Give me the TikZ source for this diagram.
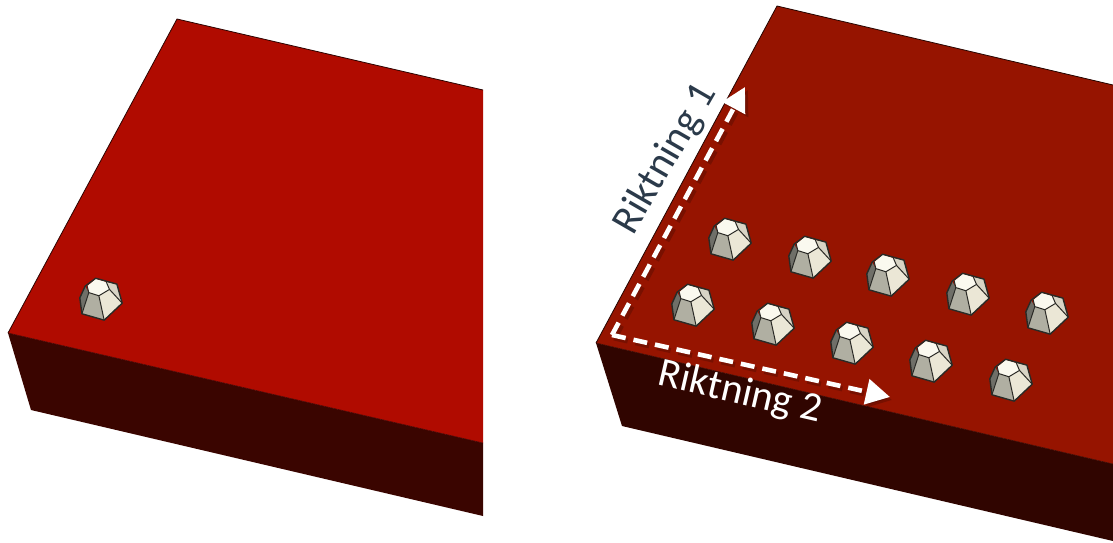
\documentclass[tikz,border=0pt]{standalone}
\usepackage{fontspec}
\setmainfont{Carlito}
\usetikzlibrary{arrows.meta}
\definecolor{redA}{HTML}{B00B00}
\definecolor{redB}{HTML}{961400}
\definecolor{sideA}{HTML}{3A0500}
\definecolor{sideB}{HTML}{300500}
\definecolor{slate}{HTML}{2B3A4A}
\definecolor{fLeft}{HTML}{6F6F68}
\definecolor{fFront}{HTML}{B0AFA2}
\definecolor{fRight}{HTML}{EBE7D6}
\definecolor{fBack}{HTML}{D8D4C5}
\definecolor{fTop}{HTML}{FAF9EF}
\definecolor{edgeC}{HTML}{2A2A26}
\tikzset{
  x=1pt,y=-1pt,
  edgeline/.style={draw=edgeC,line width=1.4pt,line join=round},
  dasharrow/.style={draw=white,line width=4.6pt,dash pattern=on 14pt off 8pt,
     -{Triangle[length=24pt,width=25pt,fill=white]}},
  dashshadow/.style={draw=black,opacity=.2,line width=5pt,dash pattern=on 14pt off 8pt,
     -{Triangle[length=24pt,width=25pt,fill=black]}},
  bump/.pic={
    \begin{scope}[scale=1.06]
    \fill[fLeft] (-20,-2)--(-15,-13)--(-11.5,-7)--(-18,13)--cycle;
    \fill[fFront] (-11.5,-7)--(-2,-4)--(3,19)--(-18,13)--cycle;
    \fill[fRight] (-2,-4)--(8,-10)--(20,3)--(3,19)--cycle;
    \fill[fBack] (5,-17)--(15,-15)--(20,3)--(8,-10)--cycle;
    \fill[fTop] (-13,-13)--(-5,-20)--(5,-17)--(8,-10)--(-2,-4)--(-11.5,-7)--cycle;
    \draw[edgeline] (-20,-2)--(-15,-13)--(-5,-20.5)--(15,-15)--(20,3)--(3,19)--(-18,13)--cycle;
    \draw[edgeline,line width=1pt] (-11.5,-7)--(-18,13) (-2,-4)--(3,19) (8,-10)--(20,3)
       (-13,-13)--(-11.5,-7)--(-2,-4)--(8,-10)--(5,-17);
    \end{scope}
  }
}
\begin{document}
\begin{tikzpicture}
\useasboundingbox (0,0) rectangle (1113,543);
% left plate
\fill[sideA] (8,333)--(31,410)--(483,516)--(483,443)--cycle;
\fill[redA] (8,333)--(177,19)--(483,90)--(483,443)--cycle;
\draw[black!75!redA,line width=.8pt] (8,333)--(177,19)--(483,90);
\draw[black!60!redA,line width=.6pt] (8,333)--(483,443);
\pic at (101,300) {bump};
% right plate
\fill[sideB] (596,343)--(622,426)--(1113,541)--(1113,464)--cycle;
\fill[redB] (596,343)--(777,6)--(1113,85)--(1113,464)--cycle;
\draw[black!75!redB,line width=.8pt] (596,343)--(777,6)--(1113,85);
\draw[black!60!redB,line width=.6pt] (596,343)--(1113,464);
\foreach \cx/\cy in {730/240,810/258,888/276,968/295,1047/314,
                     693/306,773/325,852/344,931/362,1011/381}
  \pic at (\cx,\cy) {bump};
% arrows
\coordinate (origin) at (612,335);
\coordinate (endA) at (745,87);
\coordinate (endB) at (890,397);
\draw[dashshadow] ([shift={(3,3)}]origin)--([shift={(3,3)}]endA);
\draw[dashshadow] ([shift={(2,3)}]origin)--([shift={(2,3)}]endB);
\draw[dasharrow] (origin)--(endA);
\draw[dasharrow] (origin)--(endB);
% labels
\node[rotate=60,text=slate,font=\fontsize{41}{41}\selectfont,inner sep=0pt] (labelA) at (666,159) {Riktning 1};
\node[rotate=-13,text=white,font=\fontsize{41}{41}\selectfont,inner sep=0pt] (labelB) at (740,393) {Riktning 2};
\end{tikzpicture}
\end{document}
